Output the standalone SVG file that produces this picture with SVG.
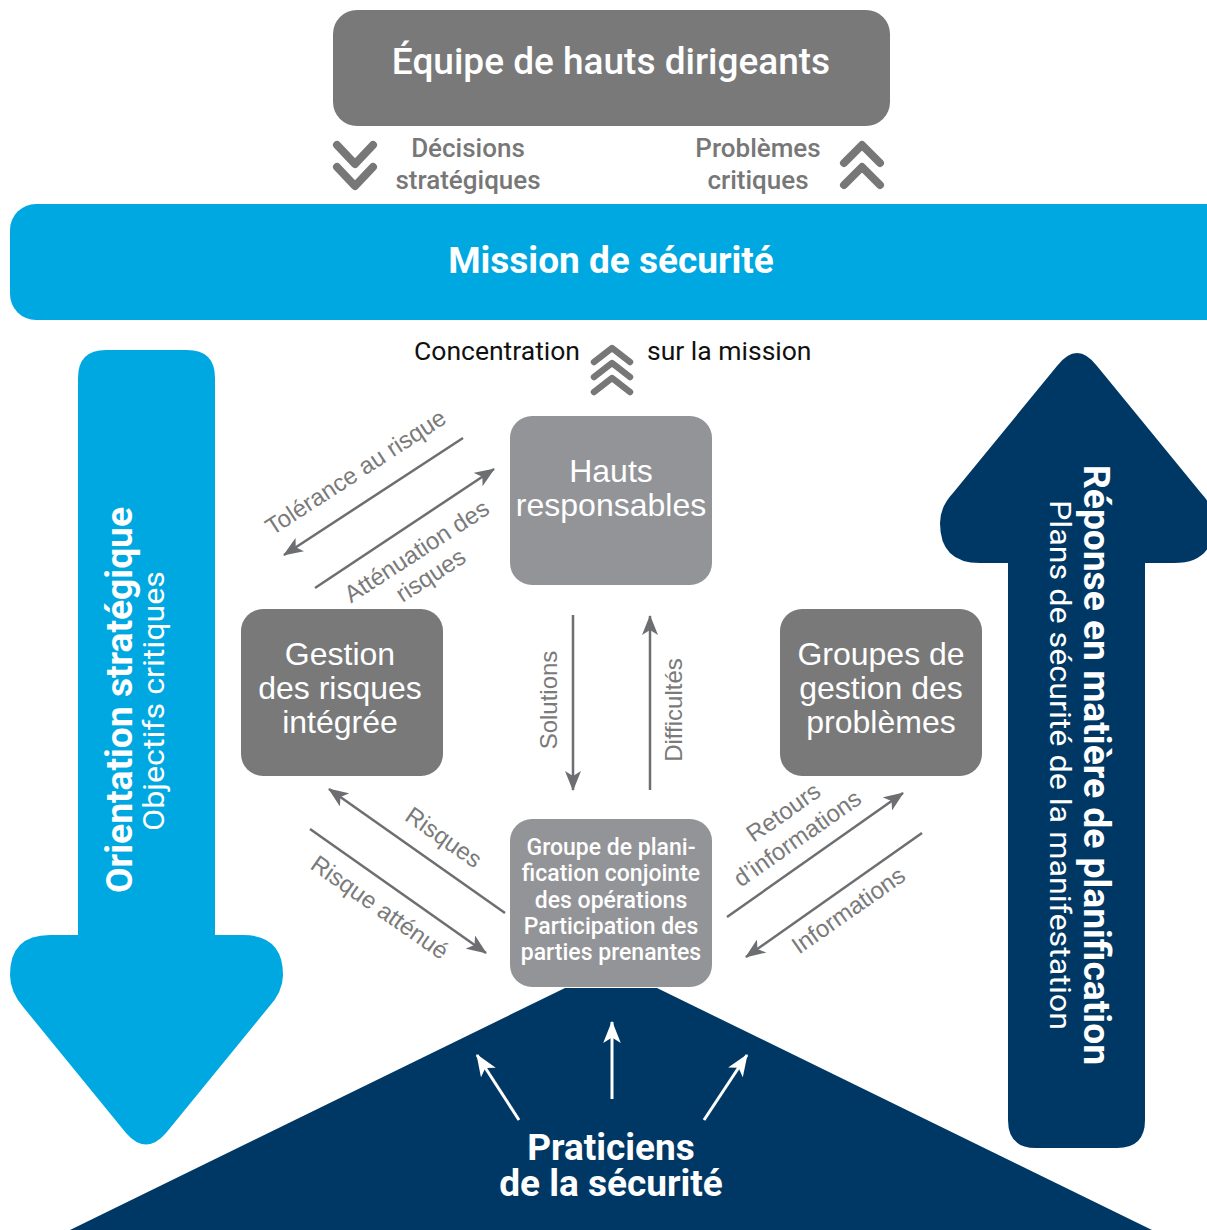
<svg xmlns="http://www.w3.org/2000/svg" width="1207" height="1230" viewBox="0 0 1207 1230">
<style>
.dk{fill:#797979}
.lt{fill:#939497}
.nt{font-family:"Liberation Sans",Arial,sans-serif;font-size:32px;fill:#fff;text-anchor:middle}
.ct{font-family:Roboto,"Liberation Sans",sans-serif;font-size:23px;font-weight:500;fill:#fff;text-anchor:middle}
.lb{font-family:"Liberation Sans",Arial,sans-serif;font-size:24px;fill:#7a7a7a;text-anchor:middle}
.rb{font-family:Roboto,"Liberation Sans",sans-serif;text-anchor:middle}
.con{stroke:#6d6e71;stroke-width:2.5;fill:none;marker-end:url(#ah)}
.wcon{stroke:#fff;stroke-width:3;fill:none;marker-end:url(#wh)}
.chev{stroke:#777;stroke-width:8;fill:none;stroke-linecap:round;stroke-linejoin:round}
</style>
<defs>
<marker id="ah" viewBox="0 0 20 16" refX="19" refY="8" markerWidth="20" markerHeight="16" markerUnits="userSpaceOnUse" orient="auto"><path d="M0,0 L20,8 L0,16 L5,8 Z" fill="#6d6e71"/></marker>
<marker id="wh" viewBox="0 0 20 16" refX="19" refY="8" markerWidth="22" markerHeight="18" markerUnits="userSpaceOnUse" orient="auto"><path d="M0,0 L20,8 L0,16 L5,8 Z" fill="#fff"/></marker>
</defs>

<g id="equipe">
<rect x="333" y="10" width="557" height="116" rx="24" class="dk"/>
<text x="611" y="74" class="rb" font-size="37" font-weight="500" fill="#fff">Équipe de hauts dirigeants</text>
</g>

<g id="decisions">
<path class="chev" d="M337,145 L355,164 L373,145 M337,167 L355,186 L373,167"/>
<text x="468" y="157" class="rb" font-size="26" font-weight="500" fill="#777">Décisions</text>
<text x="468" y="189" class="rb" font-size="26" font-weight="500" fill="#777">stratégiques</text>
</g>

<g id="problemes">
<path class="chev" d="M844,163 L862,145 L880,163 M844,185 L862,167 L880,185"/>
<text x="758" y="157" class="rb" font-size="26" font-weight="500" fill="#777">Problèmes</text>
<text x="758" y="189" class="rb" font-size="26" font-weight="500" fill="#777">critiques</text>
</g>

<g id="mission">
<rect x="10" y="204" width="1230" height="116" rx="26" fill="#00a8e1"/>
<text x="611" y="273" class="rb" font-size="37" font-weight="700" fill="#fff">Mission de sécurité</text>
</g>

<g id="concentration">
<path class="chev" style="stroke-width:6.5" d="M594,362 L612,348 L630,362 M594,377 L612,363 L630,377 M594,392 L612,378 L630,392"/>
<text x="580" y="360" font-family="Roboto,'Liberation Sans',sans-serif" font-size="26.5" fill="#111" text-anchor="end">Concentration</text>
<text x="647" y="360" font-family="Roboto,'Liberation Sans',sans-serif" font-size="26.5" fill="#111">sur la mission</text>
</g>

<g id="orientation">
<path fill="#00a8e1" d="M78,378 Q78,350 106,350 L187,350 Q215,350 215,378 L215,935 L243,935 Q283,935 283,975 Q283,992 268,1008 L166,1133 Q146,1156 126,1133 L24,1008 Q10,992 10,975 Q10,935 50,935 L78,935 Z"/>
<text transform="translate(132,700) rotate(-90)" class="rb" font-size="36" font-weight="700" fill="#fff" textLength="386" lengthAdjust="spacingAndGlyphs">Orientation stratégique</text>
<text transform="translate(164,701) rotate(-90)" class="rb" font-size="29" font-weight="400" fill="#fff" textLength="260" lengthAdjust="spacingAndGlyphs">Objectifs critiques</text>
</g>

<g id="reponse">
<path fill="#003865" d="M1008,1120 L1008,563 L980,563 Q940,563 940,523 Q940,507 953,493 L1057,366 Q1077,340 1097,366 L1201,493 Q1214,507 1214,523 Q1214,563 1174,563 L1145,563 L1145,1120 Q1145,1148 1117,1148 L1036,1148 Q1008,1148 1008,1120 Z"/>
<text transform="translate(1084,765) rotate(90)" class="rb" font-size="36" font-weight="700" fill="#fff" textLength="600" lengthAdjust="spacingAndGlyphs">Réponse en matière de planification</text>
<text transform="translate(1050,765) rotate(90)" class="rb" font-size="30" font-weight="400" fill="#fff" textLength="530" lengthAdjust="spacingAndGlyphs">Plans de sécurité de la manifestation</text>
</g>

<g id="praticiens">
<path fill="#003865" d="M70,1230 L565,988 L657,988 L1152,1230 Z"/>
<text x="611" y="1160" class="rb" font-size="37" font-weight="700" fill="#fff">Praticiens</text>
<text x="611" y="1196" class="rb" font-size="37" font-weight="700" fill="#fff">de la sécurité</text>
</g>

<g id="hauts-responsables">
<rect x="510" y="416" width="202" height="169" rx="22" class="lt"/>
<text x="611" y="482" class="nt">Hauts</text>
<text x="611" y="516" class="nt">responsables</text>
</g>

<g id="gestion-risques">
<rect x="241" y="609" width="202" height="167" rx="22" class="dk"/>
<text x="340" y="665" class="nt">Gestion</text>
<text x="340" y="699" class="nt">des risques</text>
<text x="340" y="733" class="nt">intégrée</text>
</g>

<g id="groupes-problemes">
<rect x="780" y="609" width="202" height="167" rx="22" class="dk"/>
<text x="881" y="665" class="nt">Groupes de</text>
<text x="881" y="699" class="nt">gestion des</text>
<text x="881" y="733" class="nt">problèmes</text>
</g>

<g id="groupe-planification">
<rect x="510" y="819" width="202" height="168" rx="22" class="lt"/>
<text x="611" y="855" class="ct">Groupe de plani-</text>
<text x="611" y="881" class="ct">fication conjointe</text>
<text x="611" y="908" class="ct">des opérations</text>
<text x="611" y="934" class="ct">Participation des</text>
<text x="611" y="960" class="ct">parties prenantes</text>
</g>

<g id="connectors">
<line class="con" x1="463" y1="438" x2="284" y2="555"/>
<line class="con" x1="315" y1="588" x2="494" y2="469"/>
<line class="con" x1="573" y1="615" x2="573" y2="790"/>
<line class="con" x1="650" y1="790" x2="650" y2="616"/>
<line class="con" x1="505" y1="913" x2="329" y2="789"/>
<line class="con" x1="310" y1="829" x2="486" y2="953"/>
<line class="con" x1="727" y1="917" x2="903" y2="793"/>
<line class="con" x1="922" y1="833" x2="746" y2="957"/>
<line class="wcon" x1="519" y1="1120" x2="477" y2="1055"/>
<line class="wcon" x1="612" y1="1099" x2="612" y2="1022"/>
<line class="wcon" x1="704" y1="1120" x2="747" y2="1055"/>
<text class="lb" transform="translate(360,479) rotate(-33)">Tolérance au risque</text>
<text class="lb" transform="translate(421,558) rotate(-33)">Atténuation des</text>
<text class="lb" transform="translate(435,582) rotate(-33)">risques</text>
<text class="lb" transform="translate(557,700) rotate(-90)">Solutions</text>
<text class="lb" transform="translate(682,710) rotate(-90)">Difficultés</text>
<text class="lb" transform="translate(439,844) rotate(35)">Risques</text>
<text class="lb" transform="translate(375,914) rotate(35)">Risque atténué</text>
<text class="lb" transform="translate(788,819) rotate(-35)">Retours</text>
<text class="lb" transform="translate(802,845) rotate(-35)">d’informations</text>
<text class="lb" transform="translate(853,917) rotate(-35)">Informations</text>
</g>
</svg>
